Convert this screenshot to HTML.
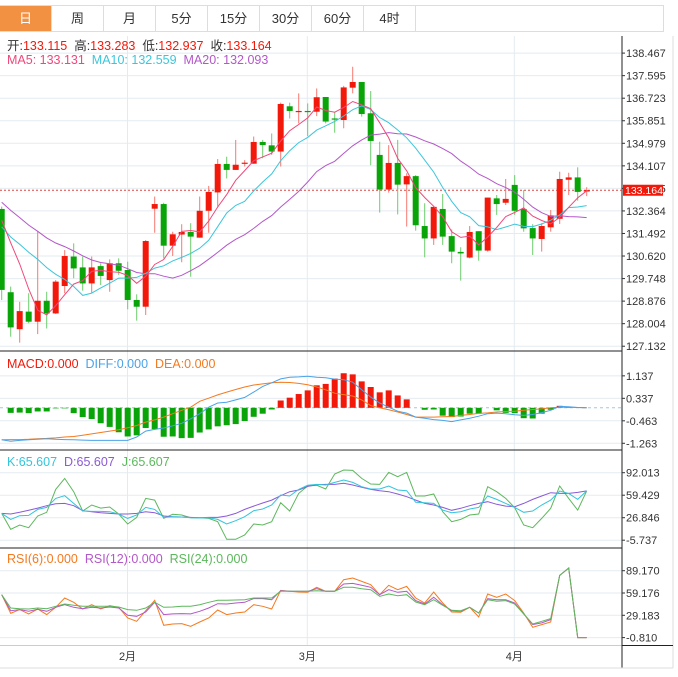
<!DOCTYPE html>
<html><head><meta charset="utf-8">
<style>
body{margin:0;background:#fff;font-family:"Liberation Sans","Noto Sans CJK SC",sans-serif;}
#wrap{position:relative;width:678px;height:677px;overflow:hidden;background:#fff;}
.tabs{position:absolute;left:0;top:5px;height:27px;width:664px;border:1px solid #ddd;border-left:none;box-sizing:border-box;display:flex;}
.tab{width:52px;height:100%;border-right:1px solid #ddd;box-sizing:border-box;text-align:center;line-height:25px;font-size:13px;color:#333;}
.tab.on{background:#f39143;color:#fff;}
svg{position:absolute;left:0;top:0;}
</style></head><body>
<div id="wrap">
<div class="tabs">
<div class="tab on">日</div>
<div class="tab">周</div>
<div class="tab">月</div>
<div class="tab">5分</div>
<div class="tab">15分</div>
<div class="tab">30分</div>
<div class="tab">60分</div>
<div class="tab">4时</div>
</div>
<svg id="chart" width="678" height="677" xmlns="http://www.w3.org/2000/svg"></svg>
</div>
<script>
const opens=[132.44,129.22,127.79,128.47,128.08,128.89,128.40,129.46,130.60,130.18,129.56,130.23,129.69,130.34,130.08,128.92,128.66,132.45,132.63,131.02,131.45,131.55,131.33,132.37,133.08,134.18,133.95,134.19,134.19,135.03,134.90,134.66,136.41,136.20,136.23,136.20,136.77,135.94,135.88,137.13,137.35,136.14,134.53,133.19,134.22,133.39,133.71,131.78,131.30,132.44,131.39,130.78,130.56,131.58,130.83,132.85,132.68,133.37,132.44,131.70,131.28,131.73,132.06,133.57,133.66,133.115];
const highs=[132.53,129.44,128.85,129.18,131.59,129.24,129.69,130.85,131.11,130.60,130.60,130.34,130.49,130.53,130.40,129.14,131.24,132.92,132.68,131.56,131.85,131.89,132.92,133.33,134.37,134.46,135.11,134.33,135.24,135.11,135.36,136.55,136.55,136.91,136.52,137.10,136.77,136.20,137.20,137.94,137.35,137.00,135.04,134.91,135.11,133.82,133.75,132.66,132.52,133.02,131.65,130.96,131.78,131.58,132.88,132.98,133.60,133.75,133.17,131.85,131.89,132.40,133.88,133.84,134.05,133.283];
const lows=[128.92,127.50,127.27,128.02,127.60,127.82,128.38,129.18,129.76,129.28,129.20,129.50,129.24,129.89,128.56,128.12,128.34,131.52,130.53,130.62,130.38,129.82,131.33,131.52,132.53,133.62,133.95,134.08,134.19,134.40,134.53,134.08,135.94,135.75,135.26,136.03,135.75,135.39,135.56,136.91,136.01,134.13,132.30,133.07,132.23,131.76,131.60,130.57,131.05,131.05,130.34,129.67,130.53,130.44,130.79,132.21,132.59,132.21,131.56,130.66,130.79,131.56,131.86,132.98,132.76,132.937];
const closes=[129.31,127.86,128.49,128.08,128.89,128.40,129.63,130.62,130.14,129.56,130.18,129.85,130.34,130.05,128.92,128.66,131.20,132.63,131.02,131.46,131.55,131.37,132.37,133.10,134.18,133.95,134.15,134.23,135.03,134.91,134.66,136.50,136.23,136.23,136.19,136.76,135.82,135.91,137.14,137.35,136.11,135.07,133.19,134.22,133.38,133.71,131.81,131.30,132.52,131.37,130.79,130.72,131.55,130.83,132.88,132.63,132.83,132.37,131.69,131.30,131.78,132.19,133.60,133.66,133.10,133.164];
const priorCloses=[134.2,134.0,133.9,133.7,133.5,133.6,133.4,133.5,133.3,133.4,131.8,131.3,131.2,131.6,131.6,132.2,132.6,132.9,132.99];
const priceTicks=["138.467","137.595","136.723","135.851","134.979","134.107","133.235","132.364","131.492","130.620","129.748","128.876","128.004","127.132"];
const macdHist=[0,-0.18,-0.17,-0.19,-0.13,-0.13,-0.02,-0.02,-0.19,-0.33,-0.40,-0.55,-0.68,-0.87,-1.02,-0.98,-0.72,-0.76,-1.03,-1.02,-1.08,-1.07,-0.88,-0.77,-0.66,-0.62,-0.58,-0.47,-0.32,-0.21,-0.06,0.26,0.36,0.49,0.62,0.80,0.85,1.04,1.23,1.19,0.94,0.74,0.55,0.62,0.44,0.30,0,-0.07,-0.06,-0.28,-0.33,-0.31,-0.21,-0.21,0,-0.09,-0.18,-0.19,-0.37,-0.38,-0.21,-0.07,0.07,0.02,0.01,0];
const difVals=[-1.14,-1.19,-1.16,-1.14,-1.12,-1.10,-1.12,-1.13,-1.14,-1.15,-1.16,-1.16,-1.16,-1.16,-1.16,-1.04,-0.83,-0.77,-0.72,-0.64,-0.55,-0.39,-0.21,0.02,0.17,0.20,0.28,0.37,0.56,0.76,0.89,1.03,1.09,1.10,1.12,1.09,1.07,1.02,1.00,0.91,0.64,0.38,0.17,0.02,-0.12,-0.19,-0.33,-0.37,-0.42,-0.45,-0.49,-0.43,-0.37,-0.30,-0.21,-0.19,-0.21,-0.25,-0.27,-0.24,-0.17,-0.09,0.05,0.04,0.01,0];
const deaVals=[-1.14,-1.13,-1.13,-1.12,-1.10,-1.09,-1.07,-1.04,-1.02,-0.98,-0.93,-0.88,-0.83,-0.78,-0.71,-0.63,-0.51,-0.43,-0.33,-0.21,-0.09,0.02,0.23,0.34,0.46,0.56,0.65,0.74,0.81,0.85,0.89,0.91,0.90,0.87,0.82,0.74,0.64,0.52,0.47,0.42,0.28,0.08,0,-0.07,-0.15,-0.24,-0.33,-0.33,-0.33,-0.32,-0.31,-0.27,-0.24,-0.20,-0.18,-0.15,-0.13,-0.12,-0.09,-0.06,-0.04,0,0.02,0.02,0.01,0];
const macdTicks=["1.137","0.337","-0.463","-1.263"];
const kVals=[33.1,24.4,29.7,30.2,38.9,41.8,54.8,58.7,47.6,36.5,36.0,36.0,35.5,32.2,25.9,30.7,41.8,38.9,27.3,28.3,27.8,26.9,26.4,26.9,24.4,17.7,22.5,28.3,37.0,39.4,45.2,59.7,58.2,67.9,73.7,75.1,74.2,78.0,81.4,78.0,71.7,68.4,68.4,72.7,66.9,66.0,49.1,48.6,47.6,37.9,34.1,35.5,39.4,41.8,58.2,53.4,47.6,41.8,34.6,36.5,45.2,52.4,65.5,62.1,53.4,65.6];
const dVals=[33.1,32.2,34.6,37.5,40.8,44.2,47.1,47.6,44.2,37.0,35.5,34.1,33.1,32.2,32.2,33.1,35.5,34.1,29.3,28.3,27.8,27.3,26.9,27.3,27.3,29.3,33.1,38.9,43.7,48.1,52.4,58.7,64.5,66.9,72.2,74.6,75.1,75.1,76.6,74.2,70.8,67.9,66.0,64.5,61.1,57.3,52.4,47.6,45.2,41.8,37.5,40.4,44.2,47.6,50.0,46.2,43.7,42.8,47.6,53.4,58.2,63.1,62.1,62.1,63.5,65.6];
const jVals=[33.1,10.0,16.2,12.4,29.3,34.6,67.9,83.8,64.5,36.5,45.2,40.8,42.3,32.2,17.7,27.3,54.8,52.4,25.9,31.7,30.7,26.9,26.9,25.9,21.1,-4.5,-4.5,1.8,17.7,16.2,21.1,48.6,36.5,62.1,72.7,73.7,68.4,90.1,95.9,95.4,83.8,75.6,75.1,92.5,86.2,92.5,58.2,58.2,61.1,35.5,21.1,24.4,30.7,32.2,71.7,64.5,54.8,41.3,16.2,12.4,25.9,40.4,72.7,54.8,37.9,65.6];
const kdjTicks=["92.013","59.429","26.846","-5.737"];
const rsi6=[56.9,31.9,36.8,31.0,37.7,30.1,39.9,52.4,46.6,37.7,43.5,37.7,42.2,39.9,25.6,21.1,35.4,49.3,15.7,17.5,18.0,14.4,20.2,25.6,36.3,30.1,32.3,33.6,43.5,41.3,37.7,62.7,61.4,60.5,60.1,66.8,61.4,61.4,77.1,79.3,74.8,70.4,56.9,69.5,63.6,68.1,52.4,45.7,60.5,45.7,33.6,33.2,39.9,26.9,57.8,53.4,57.8,48.9,32.3,13.0,16.6,20.2,82.9,92.7,-0.81,-0.81];
const rsi12=[56.9,35.4,36.8,34.5,37.2,34.5,39.9,43.5,39.9,38.1,39.9,39.0,40.4,39.0,29.2,27.8,33.6,46.6,30.1,31.0,31.4,31.0,34.5,39.0,44.8,44.4,45.7,46.6,51.6,51.6,50.2,62.3,61.4,61.4,61.4,65.0,61.4,61.4,71.3,72.1,69.5,66.8,56.9,63.6,60.1,61.4,48.9,44.4,53.4,43.5,35.4,34.5,39.9,32.3,51.6,50.2,50.2,45.7,31.0,16.6,18.9,23.4,82.9,92.7,-0.81,-0.81];
const rsi24=[56.9,39.0,38.1,37.7,39.0,38.1,41.3,44.4,42.6,41.3,41.3,41.3,41.3,40.4,36.8,35.9,39.0,46.6,39.9,40.4,41.3,41.3,43.5,46.6,49.3,49.3,49.8,50.2,52.4,52.4,52.4,61.4,61.4,61.4,61.4,62.3,61.4,61.4,66.8,66.8,65.0,63.6,54.7,57.8,55.6,56.9,47.1,43.5,50.2,42.6,35.9,35.4,39.9,32.3,50.2,48.0,48.9,44.4,31.0,17.5,21.1,24.7,82.9,92.7,-0.81,-0.81];
const rsiTicks=["89.170","59.176","29.183","-0.810"];
const monthLabels=["2月","3月","4月"];

const NS="http://www.w3.org/2000/svg";
const svg=document.getElementById('chart');
function el(tag,attrs,parent){const e=document.createElementNS(NS,tag);for(const k in attrs)e.setAttribute(k,attrs[k]);(parent||svg).appendChild(e);return e;}
const AX=622;
const xOf=i=>1.7+9*i;
const yP=p=>53.1+(138.467-p)*25.86;
const yM=v=>407.8-v*28.1;
const yK=v=>472.7+(92.013-v)*0.6905;
const yR=v=>570.7+(89.17-v)*0.7434;
const monthX=[127.5,307.3,514.3];

const defs=el('defs',{});
[['cMain',36,315],['cMacd',352,98],['cKdj',451,97],['cRsi',549,96]].forEach(([id,y,h])=>{const c=el('clipPath',{id:id},defs);el('rect',{x:0,y:y,width:AX,height:h},c);});

function hgrid(ys){ys.forEach(y=>{const g=el('line',{x1:0,x2:AX,y1:y,y2:y,stroke:'#e4ebf0','stroke-width':1});});}
hgrid(priceTicks.map(t=>yP(+t)));
hgrid(macdTicks.map(t=>yM(+t)));
hgrid(kdjTicks.map(t=>yK(+t)));
hgrid(rsiTicks.map(t=>yR(+t)));
monthX.forEach(x=>{const g=el('line',{x1:x,x2:x,y1:36,y2:645,stroke:'#e4ebf0','stroke-width':1});});

[[0,351,AX,351,'#222'],[0,450,AX,450,'#222'],[0,548,AX,548,'#222'],[0,645.5,AX,645.5,'#ccc'],[AX,36,AX,668,'#222'],[0,668,673,668,'#ddd'],[673,36,673,668,'#ddd'],[AX,645.5,673,645.5,'#222']].forEach(l=>{const e=el('line',{x1:l[0],y1:l[1],x2:l[2],y2:l[3],stroke:l[4],'stroke-width':1});});

function axisLabels(ticks,fy,name){ticks.forEach(t=>{const y=fy(+t);const tk=el('line',{x1:AX,x2:AX+3,y1:y,y2:y,stroke:'#333'});const tx=el('text',{x:AX+4,y:y+4,'font-size':'11',fill:'#333'});tx.textContent=t;});}
axisLabels(priceTicks,yP,'price-axis');
axisLabels(macdTicks,yM,'macd-axis');
axisLabels(kdjTicks,yK,'kdj-axis');
axisLabels(rsiTicks,yR,'rsi-axis');
monthLabels.forEach((m,i)=>{const t=el('text',{x:monthX[i],y:660,'font-size':'11',fill:'#333','text-anchor':'middle'});t.textContent=m;});

const gMain=el('g',{'clip-path':'url(#cMain)'});


const last=closes[closes.length-1];
const cur=el('line',{x1:0,x2:AX,y1:yP(last),y2:yP(last),stroke:'#e0423a','stroke-dasharray':'2,2','stroke-width':1},gMain);


for(let i=0;i<closes.length;i++){
  const up=closes[i]>=opens[i];
  const col=up?'#f2180a':'#08a408';
  const wc=up?'#f57a72':'#6ccb6c';
  const x=xOf(i);
  const w=el('line',{x1:x,x2:x,y1:yP(highs[i]),y2:yP(lows[i]),stroke:wc,'stroke-width':1},gMain);
  
  
  const t=yP(Math.max(opens[i],closes[i])),b=yP(Math.min(opens[i],closes[i]));
  const r=el('rect',{x:x-3,y:t,width:6,height:Math.max(1.2,b-t),fill:col},gMain);
  
  
}
const allC=priorCloses.concat(closes);
function ma(n){const out=[];for(let i=0;i<closes.length;i++){const k=i+priorCloses.length;let s=0;for(let j=k-n+1;j<=k;j++)s+=allC[j];out.push(s/n);}return out;}
function poly(vals,fy,color,g,name){const p=vals.map((v,i)=>xOf(i).toFixed(1)+','+fy(v).toFixed(1)).join(' ');const e=el('polyline',{points:p,fill:'none',stroke:color,'stroke-width':1},g);return e;}
const ma5=ma(5),ma10=ma(10),ma20=ma(20);
poly(ma20,yP,'#b457c9',gMain,'ma20-line');
poly(ma10,yP,'#3cc6db',gMain,'ma10-line');
poly(ma5,yP,'#f0487a',gMain,'ma5-line');
const lb=el('rect',{x:AX+1,y:yP(last)-5.5,width:40,height:11,fill:'#f2180a'});


const lt=el('text',{x:AX+3,y:yP(last)+4,'font-size':'10.5',fill:'#fff'});
lt.textContent=last.toFixed(3);



const gM=el('g',{'clip-path':'url(#cMacd)'});


const z=el('line',{x1:0,x2:AX,y1:yM(0),y2:yM(0),stroke:'#9fc8e0','stroke-dasharray':'3,3'},gM);


macdHist.forEach((v,i)=>{if(v===0)return;const y0=yM(0),y1=yM(v);const r=el('rect',{x:xOf(i)-3,y:Math.min(y0,y1),width:6,height:Math.abs(y1-y0),fill:v>0?'#f2180a':'#08a408'},gM);});
poly(deaVals,yM,'#f47a1f',gM,'dea-line');
poly(difVals,yM,'#4aa3e8',gM,'dif-line');

const gK=el('g',{'clip-path':'url(#cKdj)'});


poly(jVals,yK,'#5cb85c',gK,'j-line');
poly(dVals,yK,'#8a5ad6',gK,'d-line');
poly(kVals,yK,'#33c4dc',gK,'k-line');

const gR=el('g',{'clip-path':'url(#cRsi)'});


poly(rsi6,yR,'#f47a1f',gR,'rsi6-line');
poly(rsi12,yR,'#b457c9',gR,'rsi12-line');
poly(rsi24,yR,'#5cb85c',gR,'rsi24-line');

function legend(y,parts,name){const t=el('text',{x:7,y:y,'font-size':'12.5'});parts.forEach(([s,c])=>{const sp=el('tspan',{fill:c},t);sp.textContent=s;});}
legend(50,[['开:','#333'],['133.115  ','#f2180a'],['高:','#333'],['133.283  ','#f2180a'],['低:','#333'],['132.937  ','#f2180a'],['收:','#333'],['133.164','#f2180a']],'ohlc-legend');
legend(64,[['MA5: 133.131  ','#f0487a'],['MA10: 132.559  ','#3cc6db'],['MA20: 132.093','#b457c9']],'ma-legend');
legend(368,[['MACD:0.000  ','#f2180a'],['DIFF:0.000  ','#4aa3e8'],['DEA:0.000','#f47a1f']],'macd-legend');
legend(466,[['K:65.607  ','#33c4dc'],['D:65.607  ','#8a5ad6'],['J:65.607','#5cb85c']],'kdj-legend');
legend(563,[['RSI(6):0.000  ','#f47a1f'],['RSI(12):0.000  ','#b457c9'],['RSI(24):0.000','#5cb85c']],'rsi-legend');
svg.querySelectorAll('text').forEach(t=>t.style.whiteSpace='pre');
</script>
</body></html>
